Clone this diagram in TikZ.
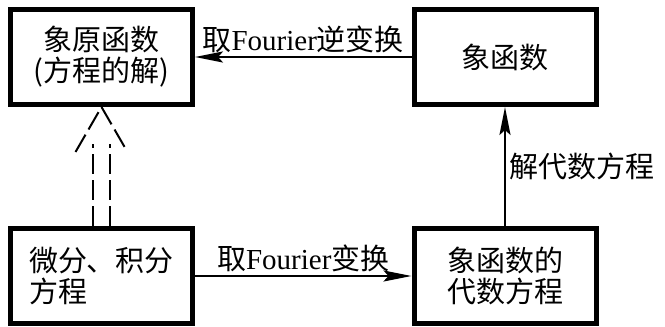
\documentclass[tikz,border=0pt]{standalone}
\usepackage{fontspec}
\setmainfont{Liberation Serif}
\newfontfamily\cjk{Noto Sans CJK SC}
\usetikzlibrary{arrows.meta,positioning}

\begin{document}
\begin{tikzpicture}[->, >={Stealth[length=28pt,width=11pt,inset=5pt]}, auto, line width=2pt, x=1pt, y=1pt,
  on grid, node distance=219pt and 403.5pt, font=\cjk\fontsize{29}{31}\selectfont]
\tikzstyle{box}=[draw=black,line width=5pt,minimum width=182pt,minimum height=95pt,align=center]
\tikzstyle{hollow}=[-,dash pattern=on 20pt off 6pt]
\useasboundingbox (0,0) rectangle (665,327);
\node[box]            (orig) at (101.5,270)  {象原函数\\(方程的解)};
\node[box]            (image)[right=of orig] {象函数};
\node[box,align=left] (eq)[below=of orig]    {微分、积分\\方程};
\node[box]            (alg)[right=of eq]     {象函数的\\代数方程};
\path
(image) edge[swap]    node{取{\rmfamily Fourier}逆变换}  (orig)
(eq)    edge          node{取{\rmfamily Fourier}变换}    (alg)
(alg)   edge[swap]    node{解代数方程}                   (image);

% hollow double arrow
\draw[hollow] ([xshift=-26pt,yshift=-45pt]orig.south) -- (orig.south) -- ([xshift=26pt,yshift=-45pt]orig.south);
\draw[hollow] ([xshift=-8.5pt]eq.north) -- ([xshift=-8.5pt,yshift=-37pt]orig.south);
\draw[hollow] ([xshift=8.5pt]eq.north) -- ([xshift=8.5pt,yshift=-37pt]orig.south);
\end{tikzpicture}
\end{document}
